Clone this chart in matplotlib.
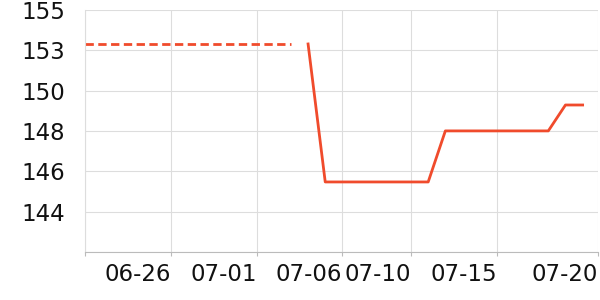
import numpy as np
import pandas as pd
import matplotlib
matplotlib.use("Agg")
import matplotlib.pyplot as plt

# dashed part (carried back) and solid part of the series
dash_dates = pd.to_datetime(["2024-06-21", "2024-07-03"])
dash_vals = [152.84, 152.84]
solid_dates = pd.to_datetime(["2024-07-04", "2024-07-05", "2024-07-11", "2024-07-12",
                              "2024-07-18", "2024-07-19", "2024-07-20"])
solid_vals = [152.84, 145.65, 145.65, 148.31, 148.31, 149.66, 149.66]

x_ticks = pd.to_datetime(["2024-06-21 00:00", "2024-06-26 00:00", "2024-07-01 00:00",
                          "2024-07-06 00:00", "2024-07-10 00:00", "2024-07-15 00:00",
                          "2024-07-20 21:30"], format="%Y-%m-%d %H:%M")
x_labels = ["", "06-26", "07-01", "07-06", "07-10", "07-15", "07-20"]

y_min, y_max = 142.0, 154.61
y_ticks = np.linspace(y_min, y_max, 7)

col = "#f04b2c"

fig = plt.figure(figsize=(6, 3), dpi=100)
ax = fig.add_axes([85/600, 48/300, 513/600, 242/300])

ax.plot(dash_dates, dash_vals, color=col, lw=2, ls=(0, (3, 1.6)))
ax.plot(solid_dates, solid_vals, color=col, lw=2)

ax.set_xlim(x_ticks[0], x_ticks[-1])
ax.set_ylim(y_min, y_max)
ax.set_xticks(x_ticks)
ax.set_xticklabels(x_labels, ha="right")
ax.set_yticks(y_ticks)
ax.set_yticklabels([""] + ["%.0f" % v for v in y_ticks[1:]])

ax.grid(True, color="#dddddd", lw=0.8)
ax.set_axisbelow(True)
for s in ["top", "right"]:
    ax.spines[s].set_visible(False)
ax.spines["left"].set_color("#dddddd")
ax.spines["bottom"].set_color("#bbbbbb")
ax.tick_params(axis="x", length=3, color="#bbbbbb", pad=5, labelsize=16.5, labelcolor="#111111")
ax.tick_params(axis="y", length=0, pad=14, labelsize=16.5, labelcolor="#111111")

fig.savefig("out.png")
